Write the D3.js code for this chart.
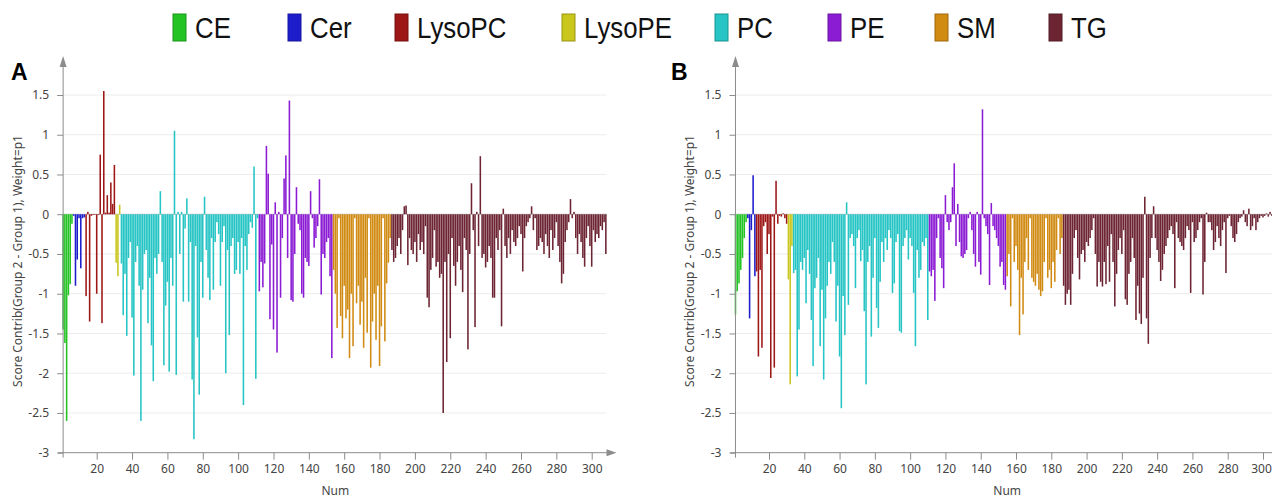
<!DOCTYPE html>
<html>
<head>
	<meta charset="utf-8">
	<title>Score contribution</title>
	<script src="https://d3js.org/d3.v7.min.js"></script>
	<style>
		body { margin: 0; background: #fff; }
		svg text { font-family: 'Noto Sans', 'DejaVu Sans', sans-serif; }
	</style>
</head>
<body>
	<div class="chart"></div>

	<script type="text/javascript">

		// lipid classes, in bar order
		var categories = ['CE', 'Cer', 'LysoPC', 'LysoPE', 'PC', 'PE', 'SM', 'TG']
		var colors = ['#22c322', '#1d1dcc', '#9e1717', '#c9c61c', '#26c4c4', '#8b1cd4', '#d18a12', '#6d2533']

		var yTicks = [-3, -2.5, -2, -1.5, -1, -0.5, 0, 0.5, 1, 1.5]
		var xTicks = [20, 40, 60, 80, 100, 120, 140, 160, 180, 200, 220, 240, 260, 280, 300]

		// panel A values, per class
		var ceA = [-1.45, -1.62, -2.6, -1.02, -0.88, -0.12]
		var cerA = [-0.02, -0.9, -0.57, -0.05, -0.68, -0.05, -0.04]
		var lysoPcA = [-1.03, 0.03, -1.35, -0.02, -0.01, 0, -1.0, -0.01, 0.75, -1.37, 1.55, 0.02, 0.24, 0.02, 0.4, 0.13, 0.62]
		var lysoPeA = [-0.61, -0.78, 0.12]
		var pcA = [-0.62, -1.27, -0.75, -1.53, -0.55, -0.35, -1.3, -2.03, -0.6, -0.4, -0.9, -2.6, -0.95, -0.5, -0.45, -1.37,
			-0.8, -1.65, -2.1, -0.55, -0.75, -0.5, 0.29, -0.6, -1.9, -1.15, -0.85, -1.98, -0.55, -0.9, 1.05, -2.02,
			0.03, -0.5, 0.03, -1.1, -0.18, 0.2, -1.1, -0.35, -2.08, -2.83, -0.4, -1.55, -2.27, -0.6, -1.05, 0.22,
			-0.45, -0.8, -1.08, -0.3, -0.95, -0.35, -0.1, -0.25, -0.9, -0.35, -0.15, -2.0, -0.45, -1.52, -0.4, -0.3,
			-0.75, -0.7, -0.35, -0.75, -0.3, -2.4, -0.4, -0.7, -0.25, -0.1, -0.17, 0.6, -2.07, -0.05]
		var peA = [-0.97, -0.6, -0.92, -0.62, 0.86, 0.51, -1.32, -0.38, -1.45, 0.15, -1.74, 0.03, -1.05, -0.3, 0.45, 0.74,
			-0.55, 1.43, -1.08, -1.1, -0.5, 0.34, -0.12, -0.2, -1.0, -1.05, -0.55, -0.6, -0.65, 0.29, -0.05, -0.42,
			-0.3, -0.15, 0.44, -1.01, -0.5, -0.55, -0.35, -0.3, -0.78, -1.81]
		var smA = [-0.7, -1.0, -1.43, -0.05, -1.28, -1.56, -0.9, -1.31, -1.2, -1.81, -1.0, -1.66, -0.05, -1.12, -0.9, -1.39,
			-1.1, -1.68, -0.8, -1.49, -0.05, -1.93, -1.35, -1.0, -1.58, -0.9, -1.91, -1.41, -0.05, -1.6, -0.87, -0.61, -0.3]
		var tgA = [-0.45, -0.6, -0.55, -0.4, -0.3, -0.5, -0.2, 0.1, 0.11, -0.64, -0.3, -0.45, -0.5, -0.35, -0.6, -0.25,
			-0.45, -0.35, -0.5, -0.15, -1.05, -1.17, -0.7, -0.55, -0.2, -0.66, -0.6, -0.8, -0.75, -2.5, -0.6, -1.86,
			-0.5, -1.56, -0.3, -0.65, -0.9, -0.6, -0.4, -0.7, -0.98, -0.3, -0.45, -1.7, -0.5, 0.39, -0.2, -1.42,
			0.03, -0.4, 0.73, -0.55, -0.5, -0.67, -0.6, -0.4, -0.55, -1.05, -1.05, -0.3, -0.45, -0.2, -1.41, 0.07,
			-0.4, -0.55, -0.3, -0.5, -0.2, -0.35, -0.4, -0.3, -0.15, -0.25, -0.72, -0.3, -0.15, -0.1, -0.05, 0.1,
			-0.2, -0.05, -0.45, -0.4, -0.3, -0.35, -0.5, -0.25, -0.4, -0.55, -0.2, -0.45, -0.3, -0.1, -0.4, -0.6,
			-0.87, -0.75, -0.35, -0.2, -0.1, 0.19, -0.05, 0.03, -0.3, -0.5, -0.25, -0.35, -0.55, -0.66, -0.3, -0.15,
			-0.4, -0.66, -0.2, -0.35, -0.25, -0.3, -0.15, -0.2, -0.1, -0.5]

		// panel B values, per class
		var ceB = [-1.26, -0.97, -0.87, -0.7, -0.55, -0.3, -0.1]
		var cerB = [-0.05, -1.31, -0.2, 0.49, -0.78]
		var lysoPcB = [-0.72, -1.79, -0.7, -1.68, -0.15, -0.1, -0.5, -0.25, -2.06, -0.03, -1.93, 0.42, -0.12, -0.02, -0.03, 0.01, -0.05, -0.12]
		var lysoPeB = [-0.82, -2.14, -0.4]
		var pcB = [-0.74, -0.7, -2.04, -1.45, -0.6, -0.7, -0.55, -1.12, -0.45, -0.75, -1.33, -1.91, -0.93, -0.8, -0.55, -1.66,
			-0.95, -2.08, -1.31, -0.9, -0.6, -0.75, -0.35, -0.6, -1.35, -0.9, -1.79, -2.44, -1.03, -1.52, 0.15, -1.14,
			-0.3, -0.25, -0.4, -0.93, -0.3, -0.2, -0.59, -0.45, -1.22, -2.14, -0.6, -0.4, -1.54, -0.8, -0.3, -1.18,
			-1.43, -0.85, -0.35, -0.6, -0.3, -0.45, -0.2, -0.3, -0.99, -0.87, -0.35, -0.25, -1.47, -1.49, -0.4, -0.3,
			-0.2, -0.57, -0.3, -0.4, -0.99, -1.66, -0.45, -0.8, -0.7, -0.35, -0.4, -0.3, -1.33]
		var peB = [-0.72, -0.78, -0.7, -1.09, -0.3, -0.05, -0.55, -0.68, -0.93, 0.24, -0.1, -0.2, -0.1, 0.34, 0.64, -0.4,
			0.13, -0.35, -0.53, -0.55, -0.5, -0.45, -0.05, 0.03, -0.2, -0.5, -0.66, 0.03, -0.6, -0.76, 1.32, -0.05,
			-0.15, -0.25, -0.89, 0.14, -0.15, -0.2, -0.3, -0.4, -0.66, -0.6, -0.89, -0.95]
		var smB = [-0.78, -0.5, -1.16, -0.05, -0.6, -0.4, -0.7, -1.52, -0.8, -1.26, -0.6, -0.3, -0.7, -0.05, -0.8, -0.85,
			-0.9, -0.75, -0.95, -1.03, -0.97, -0.6, -0.05, -0.8, -0.7, -0.93, -0.6, -0.85, -0.45, -0.05, -0.5, -0.3]
		var tgB = [-0.9, -1.14, -1.0, -0.95, -1.14, -0.75, -0.3, -0.2, -0.55, -0.82, -0.5, -0.45, -0.6, -0.35, -0.4, -0.3,
			-0.2, -0.05, -0.5, -0.91, -0.6, -0.85, -0.91, -0.6, -0.88, -0.4, -0.85, -0.25, -0.6, -1.16, -0.75, -0.45,
			-0.3, -0.5, -0.2, -1.07, -1.14, -0.75, -0.6, -0.3, -0.55, -1.33, -0.9, -1.25, -1.38, -0.8, 0.22, -1.31,
			-1.63, -0.55, -0.3, 0.1, -0.3, -0.45, -0.6, -0.84, -0.7, -0.5, -0.4, -0.3, -0.2, -0.15, -0.25, -0.93,
			-0.1, -0.3, -0.35, -0.4, -0.45, -0.3, -0.15, -0.2, -0.99, -0.1, -0.35, -0.3, -0.2, -0.1, -0.05, -1.01,
			-0.6, 0.02, -0.1, -0.1, -0.2, -0.45, -0.35, -0.15, -0.3, -0.4, -0.2, -0.1, -0.74, -0.05, -0.02, -0.15,
			-0.3, -0.35, -0.25, -0.1, -0.05, -0.03, 0.05, -0.1, -0.15, 0.07, -0.2, -0.15, -0.05, -0.2, -0.1, -0.05,
			-0.02, -0.04, -0.02, 0.01, -0.03, 0.03, -0.02, -0.02, -0.01, -0.01]

		var panelA = [ceA, cerA, lysoPcA, lysoPeA, pcA, peA, smA, tgA]
		var panelB = [ceB, cerB, lysoPcB, lysoPeB, pcB, peB, smB, tgB]

		var width = 1272
		var height = 498

		var svg = d3.select('.chart').append('svg')
			.attr('width', width)
			.attr('height', height)

		// flatten classes into numbered bars 1..n
		function toBars(groups) {
			var bars = []
			groups.forEach(function(vals, ci) {
				vals.forEach(function(v) {
					bars.push({ num: bars.length + 1, value: v, cat: categories[ci] })
				})
			})
			return bars
		}

		var color = d3.scaleOrdinal().domain(categories).range(colors)

		/**
		 * legend
		 */
		var legendX = [173, 288, 395, 562, 715, 828, 935, 1049]
		var legend = svg.append('g')
		categories.forEach(function(c, i) {
			var item = legend.append('g').attr('transform', 'translate(' + legendX[i] + ',14)')
			item.append('rect')
				.attr('width', 13).attr('height', 27)
				.attr('fill', colors[i])
				.attr('stroke', d3.color(colors[i]).darker(0.8))
				.attr('stroke-width', 1)
			item.append('text')
				.attr('transform', 'translate(22,24) scale(0.86,1)')
				.style('font-family', "'Liberation Sans', Arial, sans-serif")
				.style('font-size', '30px')
				.attr('fill', '#111')
				.text(c)
		})

		/**
		 * one panel
		 */
		function drawPanel(groups, opt) {
			var bars = toBars(groups)
			var g = svg.append('g')

			var x = d3.scaleLinear().domain([20, 300]).range([opt.x20, opt.x300])
			var y = d3.scaleLinear().domain([-3, 1.5]).range([452.7, 95])
			var x0 = x(1)
			var xEnd = x(309.5)
			var bw = (x(2) - x(1)) * 0.88

			// grid
			g.append('g').selectAll('line')
				.data(yTicks.filter(function(d) { return d > -3 }))
				.enter().append('line')
				.attr('x1', x0).attr('x2', xEnd - 2)
				.attr('y1', function(d) { return y(d) }).attr('y2', function(d) { return y(d) })
				.attr('stroke', function(d) { return d === 0 ? '#c8c8c8' : '#ececec' })

			// bars
			g.append('g').selectAll('rect')
				.data(bars)
				.enter().append('rect')
				.attr('x', function(d) { return x(d.num) - bw / 2 })
				.attr('width', bw)
				.attr('y', function(d) { return Math.min(y(d.value), y(0)) })
				.attr('height', function(d) { return Math.max(0.6, Math.abs(y(d.value) - y(0))) })
				.attr('fill', function(d) { return color(d.cat) })

			// x axis
			var axisColor = '#8c8c8c'
			var xAxis = g.append('g').attr('transform', 'translate(0,' + y(-3) + ')')
			xAxis.call(d3.axisBottom(x).tickValues(d3.range(5, 306, 5)).tickSize(3).tickFormat(''))
			xAxis.call(d3.axisBottom(x).tickValues(xTicks).tickSize(7).tickPadding(5).tickFormat(function(d) { return String(d) }))
			xAxis.selectAll('.domain').remove()
			xAxis.append('line').attr('x1', x0 - 5).attr('x2', xEnd).attr('stroke', axisColor)
			xAxis.append('path')
				.attr('d', 'M' + (xEnd + 8) + ',0 L' + (xEnd - 2) + ',-3.5 L' + (xEnd - 2) + ',3.5 Z')
				.attr('fill', axisColor)

			// keep the last label inside the window
			xAxis.selectAll('.tick text')
				.attr('dx', function(d) { return x(d) + 11 > width ? -(x(d) + 11 - width) : 0 })

			// y axis
			var yAxis = g.append('g').attr('transform', 'translate(' + x0 + ',0)')
			yAxis.call(d3.axisLeft(y).tickValues(d3.range(-30, 20, 1).map(function(d) { return d / 10 })).tickSize(3).tickFormat(''))
			yAxis.call(d3.axisLeft(y).tickValues(yTicks).tickSize(6).tickPadding(8).tickFormat(function(d) { return String(d) }))
			yAxis.selectAll('.domain').remove()
			yAxis.append('line').attr('y1', y(-3) + 5).attr('y2', 66).attr('stroke', axisColor)
			yAxis.append('path')
				.attr('d', 'M0,56 L-3.5,67 L3.5,67 Z')
				.attr('fill', axisColor)

			g.selectAll('.tick line').attr('stroke', axisColor)
			g.selectAll('.tick text')
				.attr('fill', '#444')
				.style('font-size', '12px')

			// titles
			g.append('text')
				.attr('transform', 'translate(' + (x0 - 41) + ',' + 261 + ') rotate(-90)')
				.attr('text-anchor', 'middle')
				.attr('fill', '#444')
				.style('font-size', '12px')
				.text('Score Contrib(Group 2 - Group 1), Weight=p1')

			g.append('text')
				.attr('x', x(155)).attr('y', 495)
				.attr('text-anchor', 'middle')
				.attr('fill', '#444')
				.style('font-size', '12px')
				.text('Num')

			g.append('text')
				.attr('x', opt.labelX).attr('y', 80)
				.style('font-family', "'Liberation Sans', Arial, sans-serif")
				.style('font-weight', 'bold')
				.style('font-size', '23px')
				.attr('fill', '#000')
				.text(opt.label)
		}

		drawPanel(panelA, { x20: 96.7, x300: 591.7, label: 'A', labelX: 11 })
		drawPanel(panelB, { x20: 769, x300: 1263, label: 'B', labelX: 671 })

	</script>
</body>
</html>
